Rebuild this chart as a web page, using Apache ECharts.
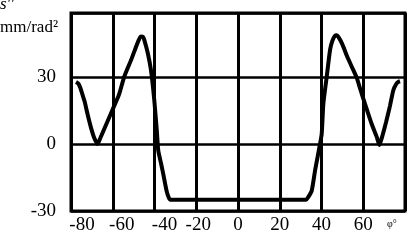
<!DOCTYPE html>
<html>
<head>
<meta charset="utf-8">
<script src="https://cdn.jsdelivr.net/npm/echarts@6/dist/echarts.min.js"></script>
<style>
html,body{margin:0;padding:0;background:#fff;}
#c{width:407px;height:245px;}
</style>
</head>
<body>
<div id="c"></div>
<script>
// Data
const phi = [-77.6, -76.5, -75.5, -74.5, -73.5, -72, -70.5, -69, -67.3, -66, -63, -60, -57, -54.5, -51, -49, -47.5, -46.5, -45.5, -44.9, -43.2, -41.7, -40.1, -38.9, -38.2, -36.8, -35.8, -34.2, -33.2, -32.4, 0, 32.6, 33.5, 35.3, 36.9, 38.3, 39.3, 40.1, 40.9, 42.5, 44.1, 45.2, 46.4, 47.3, 48.3, 50, 52.1, 54.5, 56.9, 58.4, 60.8, 64, 66.5, 67.7, 69, 71, 72.8, 74.4, 75.8, 76.8, 77.6];
const sVal = [27.7, 27, 25, 22, 19, 13, 7.5, 3, 0, 2.5, 9, 15.5, 22, 30, 38, 43, 46.5, 48, 47.8, 46.5, 40.5, 33, 19.5, 6, -3, -9, -13.5, -21, -24, -25, -25, -25, -24, -21, -12, -5, 0, 4.5, 18, 30, 42, 46, 48.2, 48.5, 47.5, 44.5, 39.5, 34.5, 29.5, 25, 18, 9, 3, -0.5, 3, 10, 17, 24, 26.8, 27.7, 28];
const xTicks = [-80, -60, -40, -20, 0, 20, 40, 60];
const yTicks = [-30, 0, 30];
const unitLabel = 'mm/rad²';
const symLabel = "s''";
const xName = 'φ°';

const chart = echarts.init(document.getElementById('c'), null, {renderer: 'canvas'});
const font = '"Liberation Serif", "Times New Roman", serif';
const shift = {'-80': 'a', '-60': 'b', '-40': 'c', '-20': 'd'};
const fs = 19;
chart.setOption({
  animation: false,
  backgroundColor: '#fff',
  grid: {left: 71, right: 2, top: 13, bottom: 34, show: true, borderColor: '#000', borderWidth: 3, backgroundColor: 'transparent'},
  xAxis: {
    type: 'value', min: -80, max: 80, interval: 20,
    axisLine: {show: false}, axisTick: {show: false},
    splitLine: {show: true, lineStyle: {color: '#000', width: 3}},
    axisLabel: {
      margin: 5, color: '#000', fontFamily: font, fontSize: fs,
      showMaxLabel: false,
      formatter: function (v) {
        if (xTicks.indexOf(v) < 0) return '';
        const k = shift[String(v)];
        return k ? '{' + k + '|' + v + '}' : String(v);
      },
      rich: {
        a: {fontFamily: font, fontSize: fs, color: '#000', padding: [0, 0, 0, 22]},
        b: {fontFamily: font, fontSize: fs, color: '#000', padding: [0, 0, 0, 18]},
        c: {fontFamily: font, fontSize: fs, color: '#000', padding: [0, 0, 0, 20]},
        d: {fontFamily: font, fontSize: fs, color: '#000', padding: [0, 0, 0, 4]}
      }
    }
  },
  yAxis: {
    type: 'value', min: -30, max: 58.5, interval: 30,
    axisLine: {show: false}, axisTick: {show: false},
    splitLine: {show: true, lineStyle: {color: '#000', width: 2.5}},
    axisLabel: {
      margin: 15, color: '#000', fontFamily: font, fontSize: fs,
      showMaxLabel: false,
      formatter: function (v) { return yTicks.indexOf(v) >= 0 ? String(v) : ''; }
    }
  },
  graphic: [
    {type: 'text', left: 0, top: -4, style: {text: symLabel, font: 'italic 17px ' + font, fill: '#000'}},
    {type: 'text', left: 0, top: 19, style: {text: unitLabel, font: '17px ' + font, fill: '#000'}},
    {type: 'text', left: 387, top: 219, style: {text: xName, font: '10px ' + font, fill: '#000'}}
  ],
  series: [{
    type: 'line',
    data: phi.map((p, i) => [p, sVal[i]]),
    showSymbol: false,
    smooth: 0.2,
    lineStyle: {color: '#000', width: 4},
    z: 5
  }]
});
</script>
</body>
</html>
